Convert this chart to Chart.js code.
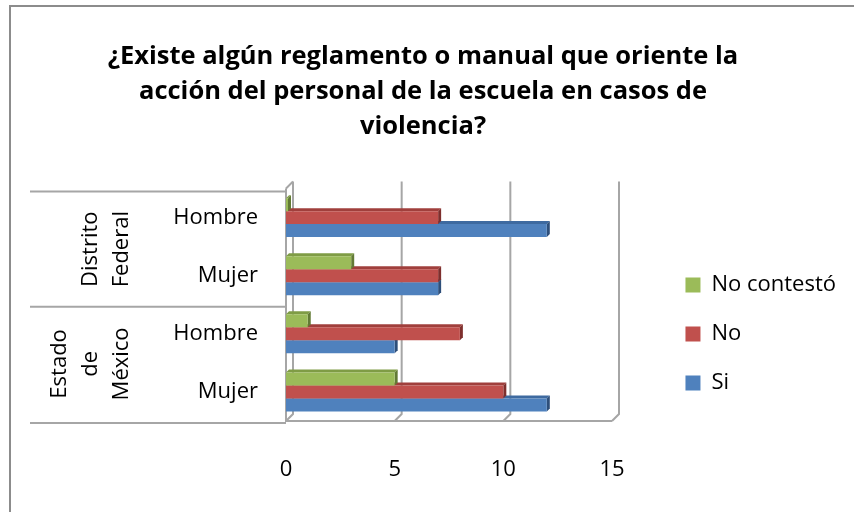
<!DOCTYPE html>
<html lang="es">
<head>
    <meta charset="UTF-8">
    <title>Reglamento o manual - violencia</title>
    <script src="https://cdn.jsdelivr.net/npm/chart.js"></script>
    <style>
        body {
            margin: 0;
            background: #ffffff;
            font-family: 'Open Sans', sans-serif;
        }
        #wrap {
            width: 854px;
            height: 512px;
        }
    </style>
</head>
<body>
    <div id="wrap">
        <canvas id="reglamentoChart" width="854" height="512"></canvas>
    </div>

    <script>
        // datos
        var categorias = ['Hombre', 'Mujer', 'Hombre', 'Mujer'];
        var grupos = [['Distrito', 'Federal'], ['Estado', 'de', 'México']];
        var tamGrupos = [2, 2];
        var noContesto = [0, 3, 1, 5];
        var noValores = [7, 7, 8, 10];
        var siValores = [12, 7, 5, 12];
        var ticksX = [0, 5, 10, 15];

        var fuente = "'Open Sans', sans-serif";
        var prof = 7;   // profundidad del marco 3D
        var profBarra = 3;
        var padLeyenda = 27;
        var derechaGrafica = 612; // donde cae el 15

        // caras laterales de las barras y marco 3D
        var efecto3D = {
            id: 'efecto3D',
            beforeDatasetsDraw: function (chart) {
                var ctx = chart.ctx;
                var a = chart.chartArea;
                var x = chart.scales.x;
                ctx.save();
                ctx.strokeStyle = '#a6a6a6';
                ctx.lineWidth = 2;
                ctx.beginPath();
                ticksX.forEach(function (v) {
                    var px = x.getPixelForValue(v);
                    ctx.moveTo(px + prof, a.top - prof);
                    ctx.lineTo(px + prof, a.bottom - prof);
                    ctx.lineTo(px, a.bottom);
                });
                ctx.moveTo(a.left, a.top);
                ctx.lineTo(a.left + prof, a.top - prof);
                ctx.moveTo(a.left, a.top);
                ctx.lineTo(a.left, a.bottom);
                ctx.lineTo(x.getPixelForValue(15), a.bottom);
                ctx.stroke();

                // caras superiores y derechas
                var orden = [2, 1, 0];
                orden.forEach(function (di) {
                    var meta = chart.getDatasetMeta(di);
                    var ds = chart.data.datasets[di];
                    meta.data.forEach(function (el) {
                        var p = el.getProps(['x', 'y', 'base', 'height'], true);
                        var t = p.y - p.height / 2;
                        var b = p.y + p.height / 2;
                        ctx.fillStyle = ds.caraSup;
                        ctx.beginPath();
                        ctx.moveTo(p.base, t);
                        ctx.lineTo(p.x, t);
                        ctx.lineTo(p.x + profBarra, t - profBarra);
                        ctx.lineTo(p.base + profBarra, t - profBarra);
                        ctx.closePath();
                        ctx.fill();
                        ctx.fillStyle = ds.caraLat;
                        ctx.beginPath();
                        ctx.moveTo(p.x, t);
                        ctx.lineTo(p.x + profBarra, t - profBarra);
                        ctx.lineTo(p.x + profBarra, b - profBarra);
                        ctx.lineTo(p.x, b);
                        ctx.closePath();
                        ctx.fill();
                    });
                });
                ctx.restore();
            }
        };

        // etiquetas de grupo (estado) a la izquierda
        var etiquetasGrupo = {
            id: 'etiquetasGrupo',
            afterDraw: function (chart) {
                var ctx = chart.ctx;
                var y = chart.scales.y;
                var a = chart.chartArea;
                var mitad = (y.getPixelForValue(0) - y.getPixelForValue(1)) / 2;
                ctx.save();
                ctx.strokeStyle = '#a6a6a6';
                ctx.lineWidth = 2;
                ctx.fillStyle = '#000';
                ctx.font = '22px ' + fuente;
                ctx.textAlign = 'center';
                ctx.textBaseline = 'middle';
                var inicio = 0;
                var yTop = a.top + 3;
                ctx.beginPath();
                ctx.moveTo(30, yTop);
                ctx.lineTo(a.left, yTop);
                ctx.stroke();
                grupos.forEach(function (lineas, g) {
                    var fin = inicio + tamGrupos[g] - 1;
                    var y0 = y.getPixelForValue(inicio) + mitad;
                    var y1 = y.getPixelForValue(fin) - mitad + 2;
                    if (g === 0) y0 = yTop;
                    ctx.beginPath();
                    ctx.moveTo(30, y1);
                    ctx.lineTo(a.left, y1);
                    ctx.stroke();
                    var cy = (y0 + y1) / 2;
                    var ultimo = 122;
                    lineas.forEach(function (txt, i) {
                        var cx = ultimo - (lineas.length - 1 - i) * 31;
                        ctx.save();
                        ctx.translate(cx, cy);
                        ctx.rotate(-Math.PI / 2);
                        ctx.fillText(txt, 0, 0);
                        ctx.restore();
                    });
                    inicio = fin + 1;
                });
                ctx.restore();
            }
        };

        // fondo y borde exterior
        var fondo = {
            id: 'fondo',
            beforeDraw: function (chart) {
                var ctx = chart.ctx;
                ctx.save();
                ctx.fillStyle = '#ffffff';
                ctx.fillRect(0, 0, chart.width, chart.height);
                ctx.strokeStyle = '#8c8c8c';
                ctx.lineWidth = 2;
                ctx.strokeRect(10, 6, chart.width + 10, chart.height + 10);
                ctx.restore();
            }
        };

        var ctx1 = document.getElementById('reglamentoChart').getContext('2d');
        var reglamentoChart = new Chart(ctx1, {
            type: 'bar',
            data: {
                labels: categorias,
                datasets: [{
                    label: 'No contestó',
                    data: noContesto,
                    backgroundColor: '#9bbb59',
                    borderColor: '#9bbb59',
                    caraSup: '#7f9c45',
                    caraLat: '#627a35',
                    minBarLength: 2
                }, {
                    label: 'No',
                    data: noValores,
                    backgroundColor: '#c0504d',
                    borderColor: '#c0504d',
                    caraSup: '#a03f3c',
                    caraLat: '#7e2f2d'
                }, {
                    label: 'Si',
                    data: siValores,
                    backgroundColor: '#4f81bd',
                    borderColor: '#4f81bd',
                    caraSup: '#3e6aa0',
                    caraLat: '#2e4f7a'
                }]
            },
            options: {
                responsive: false,
                animation: false,
                indexAxis: 'y',
                categoryPercentage: 0.67,
                barPercentage: 1,
                layout: { padding: { left: 0, right: 8, top: 0, bottom: 0 } },
                scales: {
                    x: {
                        type: 'linear',
                        min: 0,
                        max: 15,
                        ticks: { stepSize: 5, color: '#000', font: { family: fuente, size: 22 }, padding: 36 },
                        grid: { display: false, drawTicks: false },
                        border: { display: false },
                        afterFit: function (s) { s.height = 91; }
                    },
                    y: {
                        ticks: { color: '#000', font: { family: fuente, size: 22 }, padding: 28 },
                        grid: { display: false, drawTicks: false },
                        border: { display: false },
                        afterFit: function (s) { s.width = 286; }
                    },
                    hueco: {
                        type: 'linear',
                        position: 'right',
                        display: true,
                        ticks: { display: false },
                        grid: { display: false, drawTicks: false },
                        border: { display: false },
                        afterFit: function (s) {
                            // hueco entre el área de la gráfica y la leyenda
                            s.ctx.save();
                            s.ctx.font = '22px ' + fuente;
                            var w = s.ctx.measureText('No contestó').width;
                            s.ctx.restore();
                            var anchoLeyenda = padLeyenda + 15 + 11 + w + 10;
                            s.width = Math.max(0, 854 - 8 - anchoLeyenda - derechaGrafica);
                        }
                    }
                },
                plugins: {
                    title: {
                        display: true,
                        text: ['¿Existe algún reglamento o manual que oriente la',
                               'acción del personal de la escuela en casos de',
                               'violencia?'],
                        color: '#000',
                        font: { family: fuente, size: 25.5, weight: 'bold', lineHeight: 1.38 },
                        padding: { top: 39, bottom: 44 }
                    },
                    legend: {
                        position: 'right',
                        align: 'end',
                        fullSize: false,
                        maxWidth: 260,
                        labels: {
                            color: '#000',
                            font: { family: fuente, size: 22 },
                            boxWidth: 15,
                            boxHeight: 15,
                            padding: padLeyenda
                        }
                    },
                    tooltip: { enabled: false }
                }
            },
            plugins: [fondo, efecto3D, etiquetasGrupo]
        });
    </script>
</body>
</html>
